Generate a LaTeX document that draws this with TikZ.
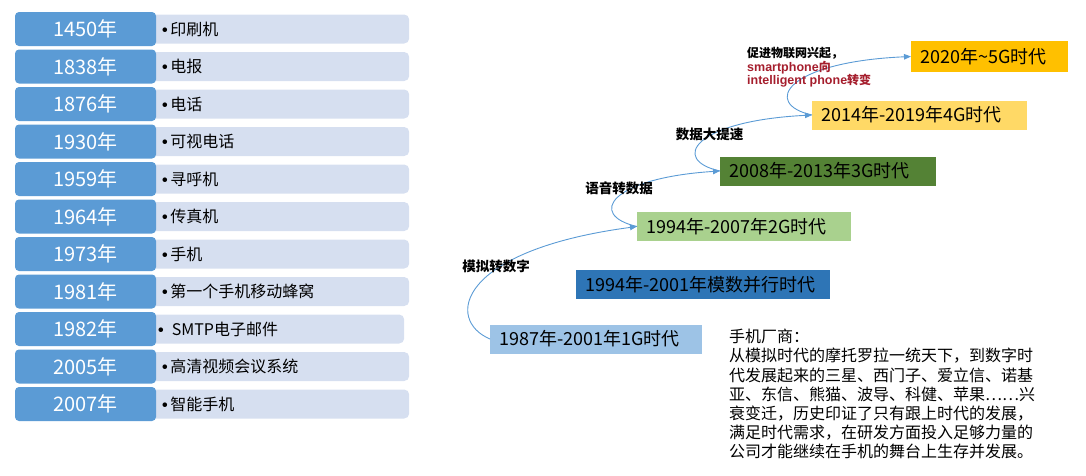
\documentclass[tikz,border=0pt]{standalone}
\usepackage{fontspec}
\setmainfont{Noto Sans CJK SC}
\newfontfamily\lat{Liberation Sans}
\usetikzlibrary{arrows.meta}
\definecolor{yearblue}{RGB}{91,155,213}
\definecolor{itemgray}{RGB}{214,223,240}
\definecolor{gold}{RGB}{255,192,0}
\definecolor{paleyellow}{RGB}{255,217,102}
\definecolor{darkgreen}{RGB}{84,130,53}
\definecolor{palegreen}{RGB}{169,209,142}
\definecolor{midblue}{RGB}{46,117,182}
\definecolor{paleblue}{RGB}{157,195,230}
\definecolor{labred}{RGB}{165,30,45}
\newcommand\itembullet{{\lat\bfseries •}}

\begin{document}
\begin{tikzpicture}[x=1pt, y=-1pt,
  year/.style={fill=yearblue, rounded corners=4pt, minimum width=141pt, minimum height=34pt,
    inner sep=0pt, text=white, font=\fontsize{20}{24}\selectfont},
  item/.style={fill=itemgray, rounded corners=5pt, anchor=west, minimum height=29pt,
    inner xsep=12pt, inner ysep=0pt, align=left, font=\fontsize{16}{19}\selectfont},
  era/.style={anchor=west, minimum height=29pt, inner xsep=9pt, inner ysep=0pt,
    align=left, font=\fontsize{18}{22}\selectfont},
  hop/.style={draw=yearblue, line width=0.9pt, -{Triangle[length=7pt,width=5.5pt]}},
  tag/.style={font=\fontsize{13.5}{16}\selectfont\bfseries, inner sep=0pt}]
\useasboundingbox (0,0) rectangle (1086,475);

% left table
\foreach \yr/\what/\len [count=\i] in {1450/印刷机/235, 1838/电报/235, 1876/电话/235,
    1930/可视电话/235, 1959/寻呼机/235, 1964/传真机/235, 1973/手机/235,
    1981/第一个手机移动蜂窝/235, 1982/{\hspace{-4pt}\itembullet\hspace{8pt}SMTP电子邮件}/230,
    2005/高清视频会议系统/235, 2007/智能手机/235}{
  \ifnum\i=9
    \node[item, text width=\len pt] (it\i) at (150, {29+37.5*(\i-1)}) {\what};
  \else
    \node[item, text width=\len pt] (it\i) at (150, {29+37.5*(\i-1)}) {\itembullet\,\what};
  \fi
  \node[year] (yr\i) at (85.5, {29+37.5*(\i-1)}) {\yr 年};
}

% generations
\node[era, fill=paleblue, text width=194pt] (g1) at (490,339) {1987年-2001年1G时代};
\node[era, fill=midblue, text width=236pt] (mix) at (576,284.5) {1994年-2001年模数并行时代};
\node[era, fill=palegreen, text width=196pt] (g2) at (637,226.5) {1994年-2007年2G时代};
\node[era, fill=darkgreen, text width=198pt] (g3) at (720,171) {2008年-2013年3G时代};
\node[era, fill=paleyellow, text width=197pt] (g4) at (812,115) {2014年-2019年4G时代};
\node[era, fill=gold, minimum height=31pt, text width=139pt] (g5) at (911,56.5) {2020年\textasciitilde 5G时代};

\draw[hop] (g1.west) .. controls +(-45,-19) and +(-180,24) .. (g2.west);
\draw[hop] (g2.west) .. controls +(-50,-11.5) and +(-110,7) .. (g3.west);
\draw[hop] (g3.west) .. controls +(-50,-11) and +(-119,6) .. (g4.west);
\draw[hop] (g4.west) .. controls +(-50,-11) and +(-126,5.5) .. (g5.west);

\node[tag] (t1) at (496,266) {模拟转数字};
\node[tag] (t2) at (619,188) {语音转数据};
\node[tag] (t3) at (709.5,134) {数据大提速};
\node[anchor=north west, inner sep=0pt, align=left, font=\fontsize{12}{13.5}\selectfont\bfseries]
  (t4) at (747,47) {促进物联网兴起，\\
  \textcolor{labred}{{\lat\fontsize{12.5}{13.5}\selectfont smartphone}向}\\
  \textcolor{labred}{{\lat\fontsize{12.5}{13.5}\selectfont intelligent phone}转变}};

% vendors
\node[anchor=north west, inner sep=0pt, align=left, font=\fontsize{16}{19.2}\selectfont]
  (vendor) at (729,329) {手机厂商：\\
  从模拟时代的摩托罗拉一统天下，到数字时\\
  代发展起来的三星、西门子、爱立信、诺基\\
  亚、东信、熊猫、波导、科健、苹果……兴\\
  衰变迁，历史印证了只有跟上时代的发展，\\
  满足时代需求，在研发方面投入足够力量的\\
  公司才能继续在手机的舞台上生存并发展。};
\end{tikzpicture}
\end{document}
